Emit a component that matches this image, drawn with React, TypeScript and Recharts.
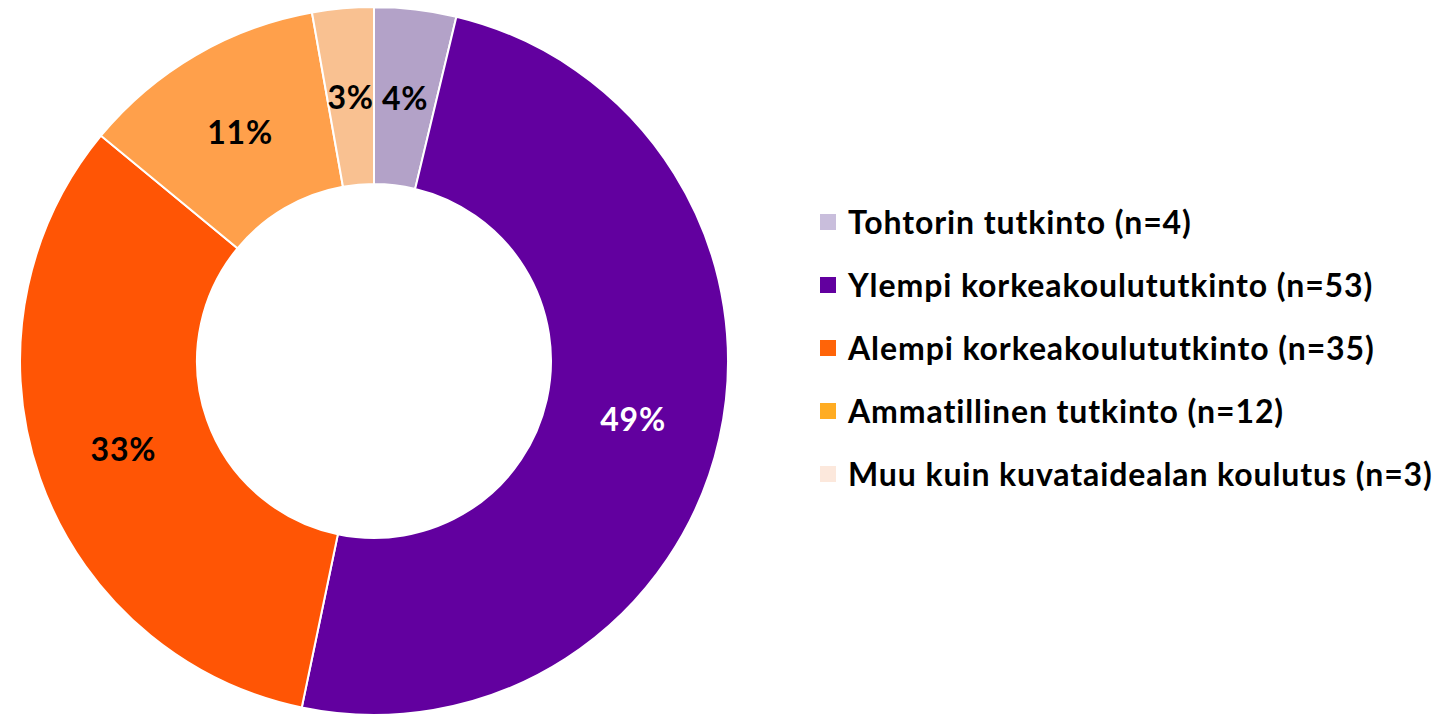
import React from "react";
import { PieChart, Pie, Cell, Legend } from "recharts";

const categories = [
  "Tohtorin tutkinto (n=4)",
  "Ylempi korkeakoulututkinto (n=53)",
  "Alempi korkeakoulututkinto (n=35)",
  "Ammatillinen tutkinto (n=12)",
  "Muu kuin kuvataidealan koulutus (n=3)",
];
const values = [4, 53, 35, 12, 3];
const sliceColors = ["#B3A2C8", "#62009F", "#FF5505", "#FFA04B", "#F9C191"];
const legendColors = ["#C9BEDC", "#62009F", "#FF6408", "#FFAC22", "#FCE8DC"];
const labelColors = ["#000000", "#FFFFFF", "#000000", "#000000", "#000000"];

const data = categories.map((name, i) => ({ name, value: values[i] }));
const total = values.reduce((a, b) => a + b, 0);

// largest-remainder rounding so percentages sum to 100
const rawPct = values.map((v) => (v / total) * 100);
const pcts = rawPct.map((p) => Math.floor(p));
{
  let rest = 100 - pcts.reduce((a, b) => a + b, 0);
  const order = rawPct
    .map((p, i) => ({ i, r: p - Math.floor(p) }))
    .sort((a, b) => b.r - a.r);
  for (let k = 0; k < rest; k++) pcts[order[k].i] += 1;
}

const FONT = "Lato, 'Open Sans', sans-serif";
const RAD = Math.PI / 180;

const renderLabel = (props: any) => {
  const { cx, cy, midAngle, innerRadius, outerRadius, index } = props;
  const r = (innerRadius + outerRadius) / 2;
  const x = cx + r * Math.cos(-midAngle * RAD);
  const y = cy + r * Math.sin(-midAngle * RAD);
  return (
    <text
      x={x}
      y={y}
      fill={labelColors[index]}
      textAnchor="middle"
      dominantBaseline="central"
      style={{ fontFamily: FONT, fontWeight: 700, fontSize: 32, letterSpacing: 0.8 }}
    >
      {pcts[index]}%
    </text>
  );
};

const renderLegend = () => (
  <div style={{ fontFamily: FONT }}>
    {categories.map((c, i) => (
      <div
        key={c}
        style={{ display: "flex", alignItems: "center", height: 63, whiteSpace: "nowrap" }}
      >
        <span
          style={{
            display: "inline-block",
            width: 16,
            height: 16,
            background: legendColors[i],
            marginRight: 12,
            flexShrink: 0,
          }}
        />
        <span style={{ fontSize: 32, fontWeight: 700, color: "#000", letterSpacing: 0.9 }}>{c}</span>
      </div>
    ))}
  </div>
);

export default function App() {
  return (
    <PieChart width={1424} height={715}>
      <Pie
        data={data}
        dataKey="value"
        nameKey="name"
        cx={361}
        cy={348}
        innerRadius={177}
        outerRadius={354}
        startAngle={90}
        endAngle={-270}
        stroke="#FFFFFF"
        strokeWidth={2}
        label={renderLabel}
        labelLine={false}
        isAnimationActive={false}
      >
        {data.map((d, i) => (
          <Cell key={d.name} fill={sliceColors[i]} />
        ))}
      </Pie>
      <Legend
        content={renderLegend}
        wrapperStyle={{ left: 812, top: 182, width: 620, bottom: "auto", right: "auto" }}
      />
    </PieChart>
  );
}
